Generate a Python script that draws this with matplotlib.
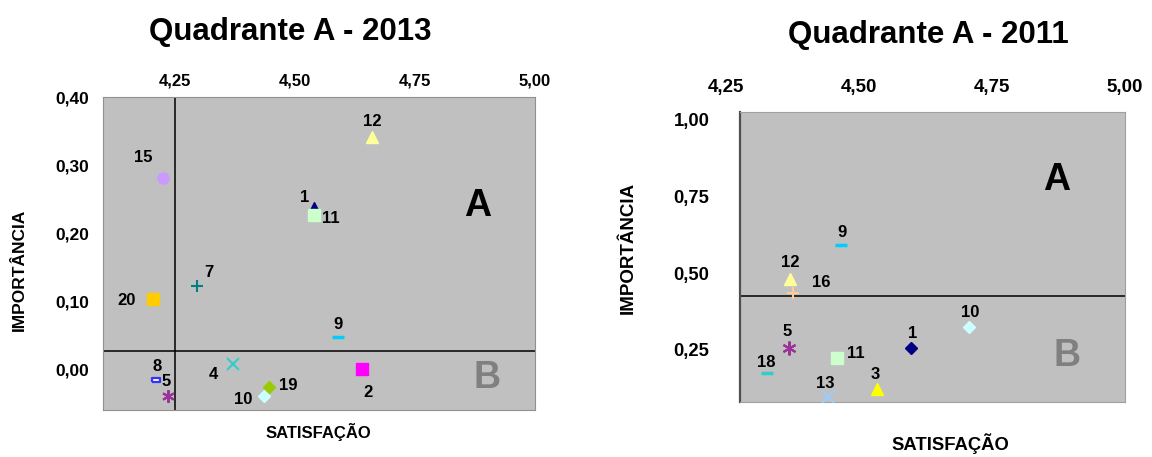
import matplotlib.pyplot as plt
from matplotlib.transforms import blended_transform_factory

plt.rcParams['font.family'] = ['Liberation Sans', 'DejaVu Sans']

# Quadrante A - 2013
ids_2013 = ['1', '2', '4', '5', '7', '8', '9', '10', '11', '12', '15', '19', '20']
sat_2013 = [4.54, 4.64, 4.37, 4.235, 4.295, 4.21, 4.59, 4.435, 4.54, 4.66, 4.225, 4.445, 4.205]
imp_2013 = [0.238, 0.0, 0.007, -0.04, 0.122, -0.016, 0.047, -0.04, 0.226, 0.341, 0.281, -0.026, 0.103]
xticks_2013 = [4.25, 4.50, 4.75, 5.00]
yticks_2013 = [0.0, 0.1, 0.2, 0.3, 0.4]
cut_2013 = (4.25, 0.027)

# Quadrante A - 2011
ids_2011 = ['1', '3', '5', '9', '10', '11', '12', '13', '16', '18']
sat_2011 = [4.597, 4.533, 4.368, 4.466, 4.706, 4.458, 4.37, 4.441, 4.376, 4.327]
imp_2011 = [0.255, 0.121, 0.255, 0.591, 0.323, 0.225, 0.48, 0.095, 0.434, 0.173]
xticks_2011 = [4.25, 4.50, 4.75, 5.00]
yticks_2011 = [0.25, 0.50, 0.75, 1.00]
cut_2011 = 0.425

rect = [(-1, -0.55), (1, -0.55), (1, 0.55), (-1, 0.55), (-1, -0.55)]
star = (6, 2, 0)

# marker, colour, size per item (per year where it differs)
style_2013 = {
    '1': ('^', '#000080', 7), '2': ('s', '#FF00FF', 8), '4': ('x', '#33CCCC', 8),
    '5': (star, '#993399', 9), '7': ('+', '#008080', 8), '8': (rect, '#3333FF', 6),
    '9': ('_', '#00CCFF', 9), '10': ('D', '#CCFFFF', 6), '11': ('s', '#CCFFCC', 8),
    '12': ('^', '#FFFF99', 8), '15': ('o', '#CC99FF', 8), '19': ('D', '#99CC00', 6),
    '20': ('s', '#FFCC00', 8),
}
style_2011 = {
    '1': ('D', '#000080', 6), '3': ('^', '#FFFF00', 9), '5': (star, '#993399', 10),
    '9': ('_', '#00CCFF', 9), '10': ('D', '#CCFFFF', 6), '11': ('s', '#CCFFCC', 9),
    '12': ('^', '#FFFF99', 9), '13': ('x', '#99CCFF', 8), '16': ('+', '#FFCC99', 9),
    '18': ('_', '#33CCCC', 9),
}
# label offsets in points
off_2013 = {
    '1': (-7, 7), '2': (4, -17), '4': (-14, -7), '5': (-1, 11), '7': (9, 10),
    '8': (1, 10), '9': (0, 9), '10': (-15, -2), '11': (12, -2), '12': (0, 11),
    '15': (-14, 15), '19': (14, 1), '20': (-19, -1),
}
off_2011 = {
    '1': (1, 11), '3': (-1, 11), '5': (-1, 12), '9': (1, 9), '10': (1, 11),
    '11': (14, 3), '12': (0, 12), '13': (-2, 10), '16': (20, 8), '18': (-1, 8),
}


def fmt(v):
    return f'{v:.2f}'.replace('.', ',')


def draw_points(ax, ids, xs, ys, styles, offsets):
    for k, x, y in zip(ids, xs, ys):
        m, c, s = styles[k]
        if m == rect:
            ax.plot(x, y, marker=m, ms=s, mfc='white', mec=c, mew=1.6, ls='none', zorder=4)
        elif m in ('+', 'x', '_') or m == star:
            ax.plot(x, y, marker=m, ms=s, color=c, mew=1.5 if m != '_' else 2.5, ls='none', zorder=4)
        else:
            ax.plot(x, y, marker=m, ms=s, color=c, mec=c, ls='none', zorder=4)
        ax.annotate(k, (x, y), xytext=offsets[k], textcoords='offset points',
                    ha='center', va='center', fontsize=12, fontweight='bold', zorder=5)


fig = plt.figure(figsize=(11.52, 4.57), dpi=100)

# left chart
ax1 = fig.add_axes([0.0894, 0.1028, 0.375, 0.6849])
ax1.set_facecolor('#C0C0C0')
ax1.set_xlim(4.10, 5.00)
ax1.set_ylim(-0.06, 0.40)
ax1.xaxis.tick_top()
ax1.set_xticks(xticks_2013, [fmt(v) for v in xticks_2013])
ax1.set_yticks(yticks_2013, [fmt(v) for v in yticks_2013])
ax1.tick_params(axis='x', length=0, pad=6, labelsize=12)
ax1.tick_params(axis='y', length=0, pad=10, labelsize=12.5)
for t in ax1.get_xticklabels() + ax1.get_yticklabels():
    t.set_fontweight('bold')
for sp in ax1.spines.values():
    sp.set_color('#909090')
ax1.axvline(cut_2013[0], color='black', lw=1.1, zorder=2)
ax1.axhline(cut_2013[1], color='black', lw=1.1, zorder=2)
draw_points(ax1, ids_2013, sat_2013, imp_2013, style_2013, off_2013)
ax1.text(0.868, 0.652, 'A', transform=ax1.transAxes, fontsize=27, fontweight='bold',
         ha='center', va='center')
ax1.text(0.889, 0.102, 'B', transform=ax1.transAxes, fontsize=27, fontweight='bold',
         color='#808080', ha='center', va='center')
fig.text(0.252, 0.93, 'Quadrante A - 2013', fontsize=22.5, fontweight='bold', ha='center', va='center')
fig.text(0.276, 0.055, 'SATISFAÇÃO', fontsize=12, fontweight='bold', ha='center', va='center')
fig.text(0.017, 0.41, 'IMPORTÂNCIA', fontsize=12.5, fontweight='bold', rotation=90,
         ha='center', va='center')

# right chart
ax2 = fig.add_axes([0.6424, 0.1204, 0.3342, 0.6346])
ax2.set_facecolor('#C0C0C0')
ax2.set_xlim(4.276, 5.00)
ax2.set_ylim(0.08, 1.026)
ax2.set_xticks([])
ax2.set_yticks(yticks_2011, [fmt(v) for v in yticks_2011])
ax2.tick_params(axis='y', length=0, pad=22, labelsize=13.3)
for t in ax2.get_yticklabels():
    t.set_fontweight('bold')
trans = blended_transform_factory(ax2.transData, ax2.transAxes)
for v in xticks_2011:
    ax2.text(v, 1.085, fmt(v), transform=trans, ha='center', va='center',
             fontsize=13.5, fontweight='bold', clip_on=False)
for sp in ax2.spines.values():
    sp.set_color('#A0A0A0')
ax2.spines['left'].set_color('#505050')
ax2.spines['left'].set_linewidth(1.6)
ax2.axhline(cut_2011, color='black', lw=1.1, zorder=2)
draw_points(ax2, ids_2011, sat_2011, imp_2011, style_2011, off_2011)
ax2.text(0.823, 0.765, 'A', transform=ax2.transAxes, fontsize=27, fontweight='bold',
         ha='center', va='center')
ax2.text(0.849, 0.159, 'B', transform=ax2.transAxes, fontsize=27, fontweight='bold',
         color='#808080', ha='center', va='center')
fig.text(0.806, 0.923, 'Quadrante A - 2011', fontsize=22.5, fontweight='bold', ha='center', va='center')
fig.text(0.825, 0.03, 'SATISFAÇÃO', fontsize=13.3, fontweight='bold', ha='center', va='center')
fig.text(0.5455, 0.457, 'IMPORTÂNCIA', fontsize=13.5, fontweight='bold', rotation=90,
         ha='center', va='center')

fig.savefig('out.png', dpi=100)
